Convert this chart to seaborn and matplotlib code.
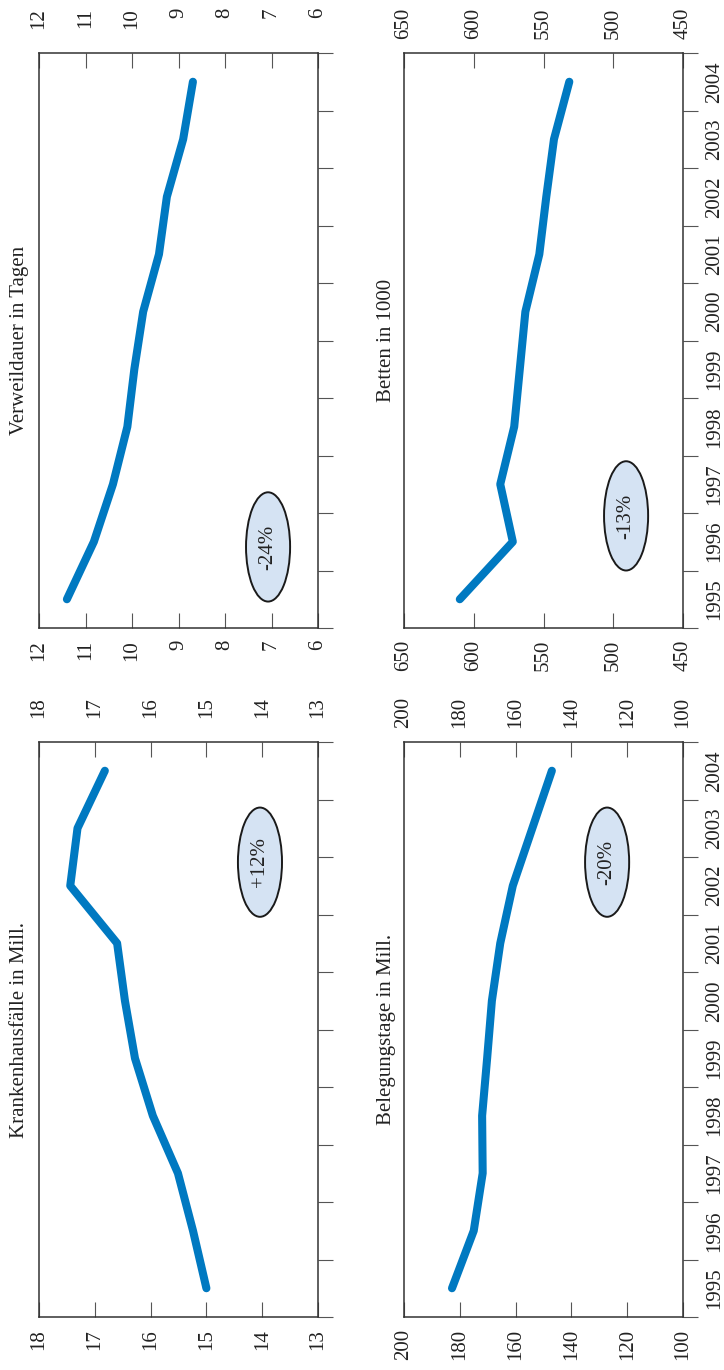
import matplotlib
matplotlib.use("Agg")
import matplotlib.pyplot as plt
import seaborn as sns
import pandas as pd
from matplotlib.patches import Ellipse

# ---------------- data ----------------
years = [1995, 1996, 1997, 1998, 1999, 2000, 2001, 2002, 2003, 2004]

faelle = [15.0, 15.24, 15.51, 15.96, 16.28, 16.46, 16.60, 17.44, 17.31, 16.82]
verweildauer = [11.40, 10.82, 10.41, 10.10, 9.95, 9.76, 9.42, 9.25, 8.90, 8.69]
betten = [610, 572, 581, 571, 567, 563, 553, 548, 542.5, 531.5]
belegungstage = [182.8, 175.0, 171.8, 172.0, 170.2, 168.5, 165.5, 161.0, 154.0, 147.0]

faelle_ticks = [13, 14, 15, 16, 17, 18]
verweil_ticks = [6, 7, 8, 9, 10, 11, 12]
betten_ticks = [450, 500, 550, 600, 650]
beleg_ticks = [100, 120, 140, 160, 180, 200]

titles = ["Krankenhausfälle in Mill.", "Verweildauer in Tagen",
          "Belegungstage in Mill.", "Betten in 1000"]
changes = ["+12%", "-24%", "-20%", "-13%"]

# ---------------- style ----------------
sns.set_style("white")
plt.rcParams["font.family"] = ["Liberation Serif", "DejaVu Serif"]
plt.rcParams["font.size"] = 15

LINE = "#0079c1"
SPINE = "#333333"
TICKC = "#555555"
FILL = "#d5e3f3"

fig = plt.figure(figsize=(7.24, 13.7), dpi=100)
W, H = 724.0, 1370.0


def make_ax(x0, y0, x1, y1):
    return fig.add_axes([x0 / W, 1 - y1 / H, (x1 - x0) / W, (y1 - y0) / H])


def panel(ax, vals, ticks, title, change, ell_center, title_x, show_years):
    df = pd.DataFrame({"Jahr": years, "Wert": vals})
    sns.lineplot(data=df, x="Wert", y="Jahr", ax=ax, orient="y", color=LINE,
                 linewidth=5.8, solid_capstyle="round", solid_joinstyle="round")
    ax.set_xlabel("")
    ax.set_ylabel("")
    ax.set_xlim(max(ticks), min(ticks))
    ax.set_ylim(years[0] - 0.5, years[-1] + 0.5)

    for s in ax.spines.values():
        s.set_visible(True)
        s.set_color(SPINE)
        s.set_linewidth(1.1)

    # value axis (horizontal, inverted)
    ax.set_xticks(ticks)
    ax.set_xticklabels([str(t) for t in ticks])
    ax.tick_params(axis="x", which="major", direction="in", length=11, width=0.8,
                   color=TICKC, top=True, bottom=True, labeltop=False,
                   labelbottom=True, labelrotation=90, pad=8.6, labelsize=15,
                   labelcolor="#222222")
    sec = ax.secondary_xaxis("top")
    sec.set_xticks(ticks)
    sec.set_xticklabels([str(t) for t in ticks])
    sec.tick_params(axis="x", length=0, pad=32.4, labelrotation=90, labelsize=15,
                    labelcolor="#222222")
    sec.spines["top"].set_visible(False)
    for t in sec.xaxis.get_major_ticks():
        t.label1.set_verticalalignment("top")
        t.label2.set_verticalalignment("top")

    # year axis (vertical), boundary ticks outward on the right
    bounds = [y - 0.5 for y in years] + [years[-1] + 0.5]
    ax.set_yticks(bounds)
    ax.tick_params(axis="y", which="major", left=False, right=True, direction="out",
                   length=11, width=0.8, color=TICKC, labelleft=False, labelright=False)
    ax.set_yticks(years, minor=True)
    ax.set_yticklabels([str(y) for y in years], minor=True)
    ax.tick_params(axis="y", which="minor", left=False, right=True, length=0,
                   labelleft=False, labelright=show_years, labelrotation=90,
                   pad=15.8, labelsize=15, labelcolor="#222222")
    for t in ax.yaxis.get_minor_ticks():
        t.label2.set_verticalalignment("center")

    ax.text(title_x, 0.5, title, transform=ax.transAxes, rotation=90,
            ha="center", va="center", fontsize=15, color="#222222")

    e = Ellipse(ell_center, 0.158, 0.19, transform=ax.transAxes,
                facecolor=FILL, edgecolor="#1a1a1a", linewidth=1.4, zorder=3)
    ax.add_patch(e)
    ax.text(ell_center[0], ell_center[1], change, transform=ax.transAxes,
            rotation=90, ha="center", va="center", fontsize=15,
            color="#222222", zorder=4)


ax_faelle = make_ax(39, 742, 318, 1317)
ax_verweil = make_ax(39, 53, 318, 628)
ax_beleg = make_ax(404, 742, 683, 1317)
ax_betten = make_ax(404, 53, 683, 628)

panel(ax_faelle, faelle, faelle_ticks, titles[0], changes[0], (0.792, 0.791), -0.07, False)
panel(ax_verweil, verweildauer, verweil_ticks, titles[1], changes[1], (0.821, 0.141), -0.07, False)
panel(ax_beleg, belegungstage, beleg_ticks, titles[2], changes[2], (0.728, 0.791), -0.063, True)
panel(ax_betten, betten, betten_ticks, titles[3], changes[3], (0.796, 0.195), -0.063, True)

fig.savefig("out.png", dpi=100)
